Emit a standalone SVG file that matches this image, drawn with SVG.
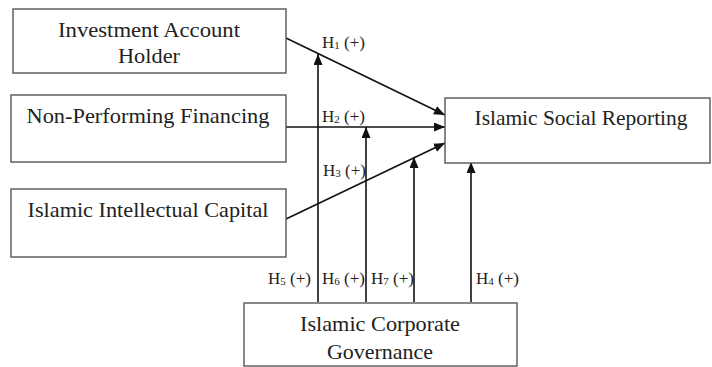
<svg xmlns="http://www.w3.org/2000/svg" width="712" height="367" viewBox="0 0 712 367">
<style>
.box{fill:#fff;stroke:#555;stroke-width:1.4}
.t{font-family:"Liberation Serif","Times New Roman",serif;font-size:21px;fill:#222;text-anchor:middle}
.lbl{font-family:"Liberation Serif","Times New Roman",serif;font-size:17px;fill:#222}
.sub{font-size:11px}
.c{stroke:#111;stroke-width:1.6;fill:none;marker-end:url(#ah)}
</style>
<defs>
<marker id="ah" markerUnits="userSpaceOnUse" markerWidth="12" markerHeight="10" refX="11" refY="4.5" orient="auto">
<path d="M0,0 L11,4.5 L0,9 z" fill="#111"/>
</marker>
</defs>
<rect width="712" height="367" fill="#fff"/>
<g id="connectors">
<line class="c" x1="286" y1="38" x2="445" y2="115"/>
<line class="c" x1="286" y1="127" x2="445" y2="127"/>
<line class="c" x1="286" y1="219" x2="445" y2="143"/>
<line class="c" x1="318" y1="302" x2="318" y2="54"/>
<line class="c" x1="366" y1="302" x2="366" y2="127"/>
<line class="c" x1="414" y1="302" x2="414" y2="157"/>
<line class="c" x1="471" y1="302" x2="471" y2="162"/>
<text class="lbl" x="322" y="48">H<tspan class="sub" dy="1">1</tspan><tspan dy="-1"> (+)</tspan></text>
<text class="lbl" x="322" y="122">H<tspan class="sub" dy="1">2</tspan><tspan dy="-1"> (+)</tspan></text>
<text class="lbl" x="323" y="176">H<tspan class="sub" dy="1">3</tspan><tspan dy="-1"> (+)</tspan></text>
<text class="lbl" x="268" y="284">H<tspan class="sub" dy="1">5</tspan><tspan dy="-1"> (+)</tspan></text>
<text class="lbl" x="322" y="284">H<tspan class="sub" dy="1">6</tspan><tspan dy="-1"> (+)</tspan></text>
<text class="lbl" x="371" y="284">H<tspan class="sub" dy="1">7</tspan><tspan dy="-1"> (+)</tspan></text>
<text class="lbl" x="476" y="284">H<tspan class="sub" dy="1">4</tspan><tspan dy="-1"> (+)</tspan></text>
</g>
<g id="iah">
<rect class="box" x="13" y="9" width="273" height="64"/>
<text class="t" x="149" y="37" textLength="182" lengthAdjust="spacingAndGlyphs">Investment Account</text>
<text class="t" x="149" y="63" textLength="62" lengthAdjust="spacingAndGlyphs">Holder</text>
</g>
<g id="npf">
<rect class="box" x="11" y="95" width="275" height="67"/>
<text class="t" x="148" y="123" textLength="243" lengthAdjust="spacingAndGlyphs">Non-Performing Financing</text>
</g>
<g id="iic">
<rect class="box" x="11" y="189" width="275" height="68"/>
<text class="t" x="148" y="217" textLength="241" lengthAdjust="spacingAndGlyphs">Islamic Intellectual Capital</text>
</g>
<g id="isr">
<rect class="box" x="445" y="98" width="265" height="65"/>
<text class="t" x="581" y="125" textLength="213" lengthAdjust="spacingAndGlyphs">Islamic Social Reporting</text>
</g>
<g id="icg">
<rect class="box" x="244" y="303" width="273" height="63"/>
<text class="t" x="380" y="331" textLength="160" lengthAdjust="spacingAndGlyphs">Islamic Corporate</text>
<text class="t" x="380" y="359" textLength="106" lengthAdjust="spacingAndGlyphs">Governance</text>
</g>
</svg>
